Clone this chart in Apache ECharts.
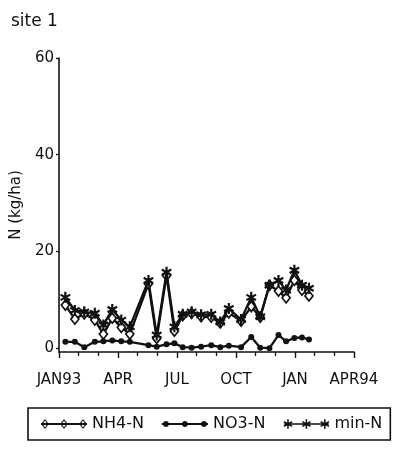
<!DOCTYPE html>
<html>
<head>
<meta charset="utf-8">
<script src="https://cdn.jsdelivr.net/npm/echarts@6/dist/echarts.min.js"></script>
<style>
  html, body { margin: 0; padding: 0; background: #fff; }
  #chart { width: 398px; height: 450px; }
</style>
</head>
<body>
<div id="chart"></div>
<script>
// Sampling dates, site 1
const sampleDates = [
  '1993-01-11', '1993-01-26', '1993-02-09', '1993-02-24', '1993-03-09', '1993-03-23',
  '1993-04-06', '1993-04-19', '1993-05-18', '1993-05-31', '1993-06-15', '1993-06-27',
  '1993-07-10', '1993-07-24', '1993-08-08', '1993-08-24', '1993-09-07', '1993-09-20',
  '1993-10-09', '1993-10-25', '1993-11-08', '1993-11-22', '1993-12-06', '1993-12-18',
  '1993-12-31', '1994-01-12', '1994-01-23'
];
// N (kg/ha)
const nh4N = [8.9, 6.0, 7.1, 5.8, 2.9, 6.2, 4.3, 2.9, 13.3, 2.0, 15.0, 3.5, 6.7, 7.2,
  6.5, 6.4, 5.2, 7.3, 5.6, 8.6, 6.4, 13.0, 11.8, 10.4, 14.0, 12.0, 10.8];
const no3N = [1.3, 1.3, 0.2, 1.3, 1.4, 1.6, 1.4, 1.3, 0.6, 0.3, 0.8, 1.0, 0.2, 0.1,
  0.3, 0.6, 0.2, 0.5, 0.2, 2.3, 0.1, 0.0, 2.7, 1.4, 2.1, 2.2, 1.8];
const minN = [10.5, 7.8, 7.5, 7.2, 4.8, 8.0, 5.8, 4.4, 14.0, 2.7, 15.7, 4.4, 7.0, 7.5,
  6.9, 7.0, 5.4, 8.2, 5.9, 10.5, 6.5, 13.0, 14.0, 12.0, 16.1, 13.0, 12.4];

const seriesNames = ['NH4-N', 'NO3-N', 'min-N'];
const xTickLabels = ['JAN93', 'APR', 'JUL', 'OCT', 'JAN', 'APR94'];
const yTickValues = [0, 20, 40, 60];

const INK = '#111';
const FONT = 'DejaVu Sans';

// months elapsed since 1 Jan 1993 (fractional)
function monthPos(s) {
  const [y, m, d] = s.split('-').map(Number);
  const dim = new Date(y, m, 0).getDate();
  return (y - 1993) * 12 + (m - 1) + (d - 1) / dim;
}

// ---- path builders for symbols and legend icons ----
function signedArea(pts) {
  let a = 0;
  for (let i = 0; i < pts.length; i++) {
    const p = pts[i], q = pts[(i + 1) % pts.length];
    a += p[0] * q[1] - q[0] * p[1];
  }
  return a;
}
function toPath(list) {
  return 'M' + list.map(p => p[0].toFixed(2) + ' ' + p[1].toFixed(2)).join('L') + 'Z';
}
// filled polygon (positive winding)
function poly(pts) {
  return toPath(signedArea(pts) < 0 ? pts.slice().reverse() : pts);
}
// hole polygon (negative winding)
function hole(pts) {
  return toPath(signedArea(pts) > 0 ? pts.slice().reverse() : pts);
}
function bar(ax, ay, bx, by, hw) {
  const dx = bx - ax, dy = by - ay, L = Math.hypot(dx, dy);
  const nx = -dy / L * hw, ny = dx / L * hw;
  return poly([[ax + nx, ay + ny], [bx + nx, by + ny], [bx - nx, by - ny], [ax - nx, ay - ny]]);
}
function disc(cx, cy, r) {
  const pts = [];
  for (let i = 0; i < 20; i++) {
    const t = i / 20 * Math.PI * 2;
    pts.push([cx + r * Math.cos(t), cy + r * Math.sin(t)]);
  }
  return poly(pts);
}
function diamondRing(cx, cy, w, h, t) {
  const outer = poly([[cx, cy - h], [cx + w, cy], [cx, cy + h], [cx - w, cy]]);
  const wi = w - t * 1.2, hi = h - t * 1.2;
  return outer + hole([[cx, cy - hi], [cx + wi, cy], [cx, cy + hi], [cx - wi, cy]]);
}
function asterisk(cx, cy, r, hw) {
  let s = bar(cx, cy - r, cx, cy + r, hw);
  [30, 150].forEach(deg => {
    const t = deg * Math.PI / 180;
    const dx = r * Math.cos(t), dy = r * Math.sin(t);
    s += bar(cx - dx, cy - dy, cx + dx, cy + dy, hw);
  });
  return s;
}

const starSymbol = 'path://' + asterisk(5, 5, 5, 1.0);

const IW = 46, IH = 10;
const iconX = [4, IW / 2, IW - 4];
const legendIcons = [
  'path://' + bar(0, 5, IW, 5, 0.9) + iconX.map(x => diamondRing(x, 5, 3.8, 5, 1.3)).join(''),
  'path://' + bar(0, 5, IW, 5, 0.9) + iconX.map(x => disc(x, 5, 3)).join(''),
  'path://' + bar(0, 5, IW, 5, 0.9) + iconX.map(x => asterisk(x, 5, 5, 0.8)).join('')
];

const xs = sampleDates.map(monthPos);
const pairs = vals => xs.map((x, i) => [x, vals[i]]);

const chart = echarts.init(document.getElementById('chart'), null, { renderer: 'canvas' });

chart.setOption({
  animation: false,
  backgroundColor: '#fff',
  textStyle: { fontFamily: FONT, color: INK },
  title: {
    text: 'site 1',
    left: 11,
    top: 13,
    padding: 0,
    textStyle: { fontFamily: FONT, fontSize: 17, fontWeight: 'normal', color: INK }
  },
  grid: { left: 59, right: 44, top: 58, bottom: 98 },
  xAxis: {
    type: 'value',
    min: 0,
    max: 15,
    interval: 3,
    splitLine: { show: false },
    axisLine: { show: true, onZero: false, lineStyle: { color: INK, width: 1.6 } },
    axisTick: { show: true, length: 6, lineStyle: { color: INK, width: 1.4 } },
    minorTick: { show: true, splitNumber: 3, length: 4, lineStyle: { color: INK, width: 1.3 } },
    axisLabel: {
      margin: 21,
      fontFamily: FONT,
      fontSize: 15,
      color: INK,
      formatter: v => xTickLabels[Math.round(v / 3)] || ''
    }
  },
  yAxis: {
    type: 'value',
    min: -0.8,
    max: 60,
    name: 'N (kg/ha)',
    nameLocation: 'middle',
    nameRotate: 90,
    nameGap: 20,
    nameTextStyle: { fontFamily: FONT, fontSize: 15, color: INK },
    splitLine: { show: false },
    axisLine: { show: true, lineStyle: { color: INK, width: 1.6 } },
    axisTick: { show: true, length: 3, customValues: yTickValues, lineStyle: { color: INK, width: 1.3 } },
    axisLabel: { margin: 5, fontFamily: FONT, fontSize: 15, color: INK, customValues: yTickValues }
  },
  legend: {
    data: seriesNames.map((n, i) => ({
      name: n,
      icon: legendIcons[i],
      itemStyle: { color: INK, borderWidth: 0 }
    })),
    selectedMode: false,
    symbolKeepAspect: true,
    itemWidth: IW,
    itemHeight: IH,
    itemGap: 18,
    left: 28,
    top: 408,
    padding: [8, 8, 8, 13],
    borderColor: INK,
    borderWidth: 1.6,
    textStyle: { fontFamily: FONT, fontSize: 16, color: INK }
  },
  series: [
    {
      name: seriesNames[0],
      type: 'line',
      data: pairs(nh4N),
      symbol: 'diamond',
      symbolSize: [8, 10],
      lineStyle: { color: INK, width: 2.3 },
      itemStyle: { color: '#fff', borderColor: INK, borderWidth: 1.7 },
      emphasis: { disabled: true },
      z: 2
    },
    {
      name: seriesNames[1],
      type: 'line',
      data: pairs(no3N),
      symbol: 'circle',
      symbolSize: 6,
      lineStyle: { color: INK, width: 2.3 },
      itemStyle: { color: INK, borderWidth: 0 },
      emphasis: { disabled: true },
      z: 3
    },
    {
      name: seriesNames[2],
      type: 'line',
      data: pairs(minN),
      symbol: starSymbol,
      symbolKeepAspect: true,
      symbolSize: 11,
      lineStyle: { color: INK, width: 2.3 },
      itemStyle: { color: INK, borderWidth: 0 },
      emphasis: { disabled: true },
      z: 4
    }
  ]
});
</script>
</body>
</html>
